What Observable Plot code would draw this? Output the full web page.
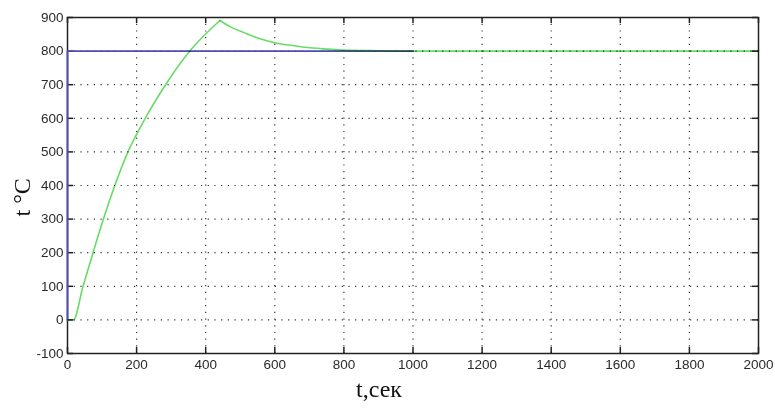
<!DOCTYPE html>
<html>
<head>
<meta charset="utf-8">
<script src="https://cdn.jsdelivr.net/npm/d3@7"></script>
<script src="https://cdn.jsdelivr.net/npm/@observablehq/plot@0.6"></script>
<style>
  html, body { margin: 0; padding: 0; background: #fff; }
  #chart { width: 775px; height: 408px; }
</style>
</head>
<body>
<div id="chart"></div>
<script>
// Tick values
const xTicks = [0, 200, 400, 600, 800, 1000, 1200, 1400, 1600, 1800, 2000];
const yTicks = [-100, 0, 100, 200, 300, 400, 500, 600, 700, 800, 900];

// Setpoint (blue)
const setT = [0, 0, 1000];
const setV = [0, 800, 800];

// Temperature response (green): heating phase, then settling phase (peak shared)
const riseT = [0, 17, 45, 74, 104, 137, 175, 225, 284, 354, 441];
const riseV = [0, 0, 100, 200, 300, 400, 500, 600, 700, 800, 891];
const settleT = [441, 472, 511, 560, 600, 640, 675, 710, 752, 800, 900, 1000, 1200, 1500, 2000];
const settleV = [891, 872, 855, 836, 825, 818, 813, 809, 806, 803, 801, 800, 800, 800, 800];

const setData = setT.map((t, i) => ({t, v: setV[i]}));
const respData = [
  ...riseT.map((t, i) => ({t, v: riseV[i], phase: "rise"})),
  ...settleT.map((t, i) => ({t, v: settleV[i], phase: "settle"}))
];

const W = 775, H = 408;
const mL = 67, mR = 17, mT = 17, mB = 55;
const plotH = H - mT - mB, plotW = W - mL - mR;
const tickLen = 6;
const innerX = xTicks.slice(1, -1);
const innerY = yTicks.slice(1, -1);
const serif = "Liberation Serif, Times New Roman, serif";

const chart = Plot.plot({
  width: W,
  height: H,
  marginLeft: mL,
  marginRight: mR,
  marginTop: mT,
  marginBottom: mB,
  style: {fontFamily: "Liberation Sans, Arial, sans-serif", background: "#fff"},
  x: {domain: [0, 2000]},
  y: {domain: [-100, 900]},
  marks: [
    // dotted grid
    Plot.ruleX(innerX, {x: d => d, stroke: "#333", strokeWidth: 1.2, strokeDasharray: "1.2,5.5"}),
    Plot.ruleY(innerY, {y: d => d, stroke: "#333", strokeWidth: 1.2, strokeDasharray: "1.2,5.5"}),
    // inward ticks
    Plot.ruleX(xTicks, {x: d => d, insetTop: plotH - tickLen, stroke: "#222", strokeWidth: 1.5}),
    Plot.ruleX(xTicks, {x: d => d, insetBottom: plotH - tickLen, stroke: "#222", strokeWidth: 1.5}),
    Plot.ruleY(yTicks, {y: d => d, insetRight: plotW - tickLen, stroke: "#222", strokeWidth: 1.5}),
    Plot.ruleY(yTicks, {y: d => d, insetLeft: plotW - tickLen, stroke: "#222", strokeWidth: 1.5}),
    Plot.frame({stroke: "#222", strokeWidth: 1.5}),
    // tick labels
    Plot.axisX({ticks: xTicks, tickSize: 0, tickPadding: 6, fontSize: 13.5, fill: "#2a2a2a", label: null, tickFormat: d => String(d)}),
    Plot.axisY({ticks: yTicks, tickSize: 0, tickPadding: 4, fontSize: 13.5, fill: "#2a2a2a", label: null, tickFormat: d => String(d)}),
    // series
    Plot.line(setData, {x: "t", y: "v", stroke: "#4d4db3", strokeWidth: 1.8}),
    Plot.line(respData, {x: "t", y: "v", z: "phase", curve: "monotone-x", stroke: "#66dd66", strokeWidth: 1.6, mixBlendMode: "multiply"}),
    // axis titles
    Plot.text(["t °C"], {text: d => d, frameAnchor: "left", dx: -45, dy: 31, rotate: -90, fontSize: 24, fontFamily: serif, fill: "#111"}),
    Plot.text(["t,сек"], {text: d => d, frameAnchor: "bottom", dx: -34, dy: 43, fontSize: 24, fontFamily: serif, fill: "#111"})
  ]
});
document.getElementById("chart").appendChild(chart);
</script>
</body>
</html>
